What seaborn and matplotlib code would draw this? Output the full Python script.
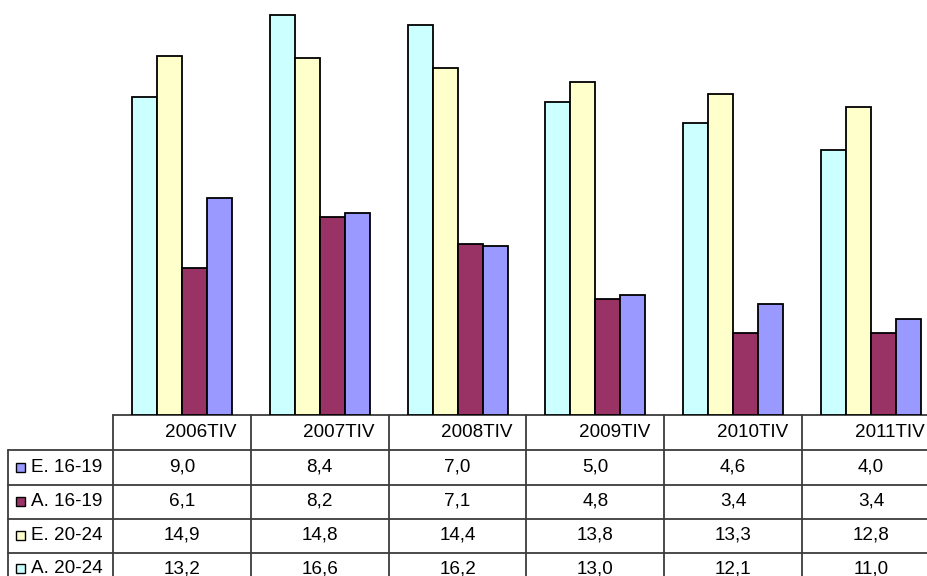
import matplotlib
matplotlib.use("Agg")
import matplotlib.pyplot as plt
import seaborn as sns
import pandas as pd
from matplotlib.lines import Line2D
from matplotlib.patches import Rectangle

# ---- data ----
periods = ["2006TIV", "2007TIV", "2008TIV", "2009TIV", "2010TIV", "2011TIV"]
e_16_19 = [9.0, 8.4, 7.0, 5.0, 4.6, 4.0]
a_16_19 = [6.1, 8.2, 7.1, 4.8, 3.4, 3.4]
e_20_24 = [14.9, 14.8, 14.4, 13.8, 13.3, 12.8]
a_20_24 = [13.2, 16.6, 16.2, 13.0, 12.1, 11.0]

series_names = ["A. 20-24", "E. 20-24", "A. 16-19", "E. 16-19"]
series_vals = [a_20_24, e_20_24, a_16_19, e_16_19]
colors = ["#CCFFFF", "#FFFFCC", "#993366", "#9999FF"]

# table row order (top to bottom)
table_names = ["E. 16-19", "A. 16-19", "E. 20-24", "A. 20-24"]
table_vals = [e_16_19, a_16_19, e_20_24, a_20_24]
table_colors = ["#9999FF", "#993366", "#FFFFCC", "#CCFFFF"]

rows = []
for name, vals in zip(series_names, series_vals):
    for p, v in zip(periods, vals):
        rows.append({"period": p, "series": name, "value": v})
df = pd.DataFrame(rows)

sns.set_style("white")
plt.rcParams["font.family"] = ["Liberation Sans", "DejaVu Sans"]

W, H = 927, 576
fig = plt.figure(figsize=(W / 100, H / 100), dpi=100)

# plot area in pixel coordinates
left_px, right_px = 113, 940
base_px = 415
ax = fig.add_axes([left_px / W, (H - base_px) / H, (right_px - left_px) / W, base_px / H])
sns.barplot(data=df, x="period", y="value", hue="series", hue_order=series_names,
            order=periods, palette=colors, saturation=1, width=0.726, gap=0,
            edgecolor="black", linewidth=1.3, ax=ax, legend=False)
ax.set_xlim(-0.5, len(periods) - 0.5)
ax.set_ylim(0, 17.22)
ax.set_xlabel("")
ax.set_ylabel("")
ax.set_xticks([])
ax.set_yticks([])
for s in ax.spines.values():
    s.set_visible(False)
ax.patch.set_alpha(0)

# ---- data table overlay (pixel coordinates) ----
tx = fig.add_axes([0, 0, 1, 1], zorder=-1)
tx.set_xlim(0, W)
tx.set_ylim(H, 0)
tx.axis("off")

col_w = (right_px - left_px) / len(periods)
col_edges = [left_px + i * col_w for i in range(len(periods) + 1)]
row_edges = [415, 450, 484.5, 518.5, 552.5, 585]
lc = "#3c3c3c"
lw = 1.3
fs = 13.6

# horizontal lines
tx.add_line(Line2D([left_px, W], [row_edges[0]] * 2, color=lc, lw=lw))
for y in row_edges[1:5]:
    tx.add_line(Line2D([8, W], [y, y], color=lc, lw=lw))
# vertical lines
for x in col_edges[:-1]:
    tx.add_line(Line2D([x, x], [row_edges[0], H], color=lc, lw=lw))
tx.add_line(Line2D([8, 8], [row_edges[1], H], color=lc, lw=lw))

# header
for i, p in enumerate(periods):
    cx = col_edges[i] + col_w / 2 + 19
    tx.text(cx, (row_edges[0] + row_edges[1]) / 2, p, ha="center", va="center",
            fontsize=fs, color="black")

# rows
for r, (name, vals, c) in enumerate(zip(table_names, table_vals, table_colors)):
    cy = (row_edges[r + 1] + row_edges[r + 2]) / 2
    tx.add_patch(Rectangle((16, cy - 4.5), 9, 9, facecolor=c, edgecolor="black", lw=1.0))
    tx.text(31, cy, name, ha="left", va="center", fontsize=fs, color="black")
    for i, v in enumerate(vals):
        cx = col_edges[i] + col_w / 2
        tx.text(cx, cy, f"{v:.1f}".replace(".", ","), ha="center", va="center",
                fontsize=fs, color="black")

fig.savefig("out.png", dpi=100, facecolor="white")
